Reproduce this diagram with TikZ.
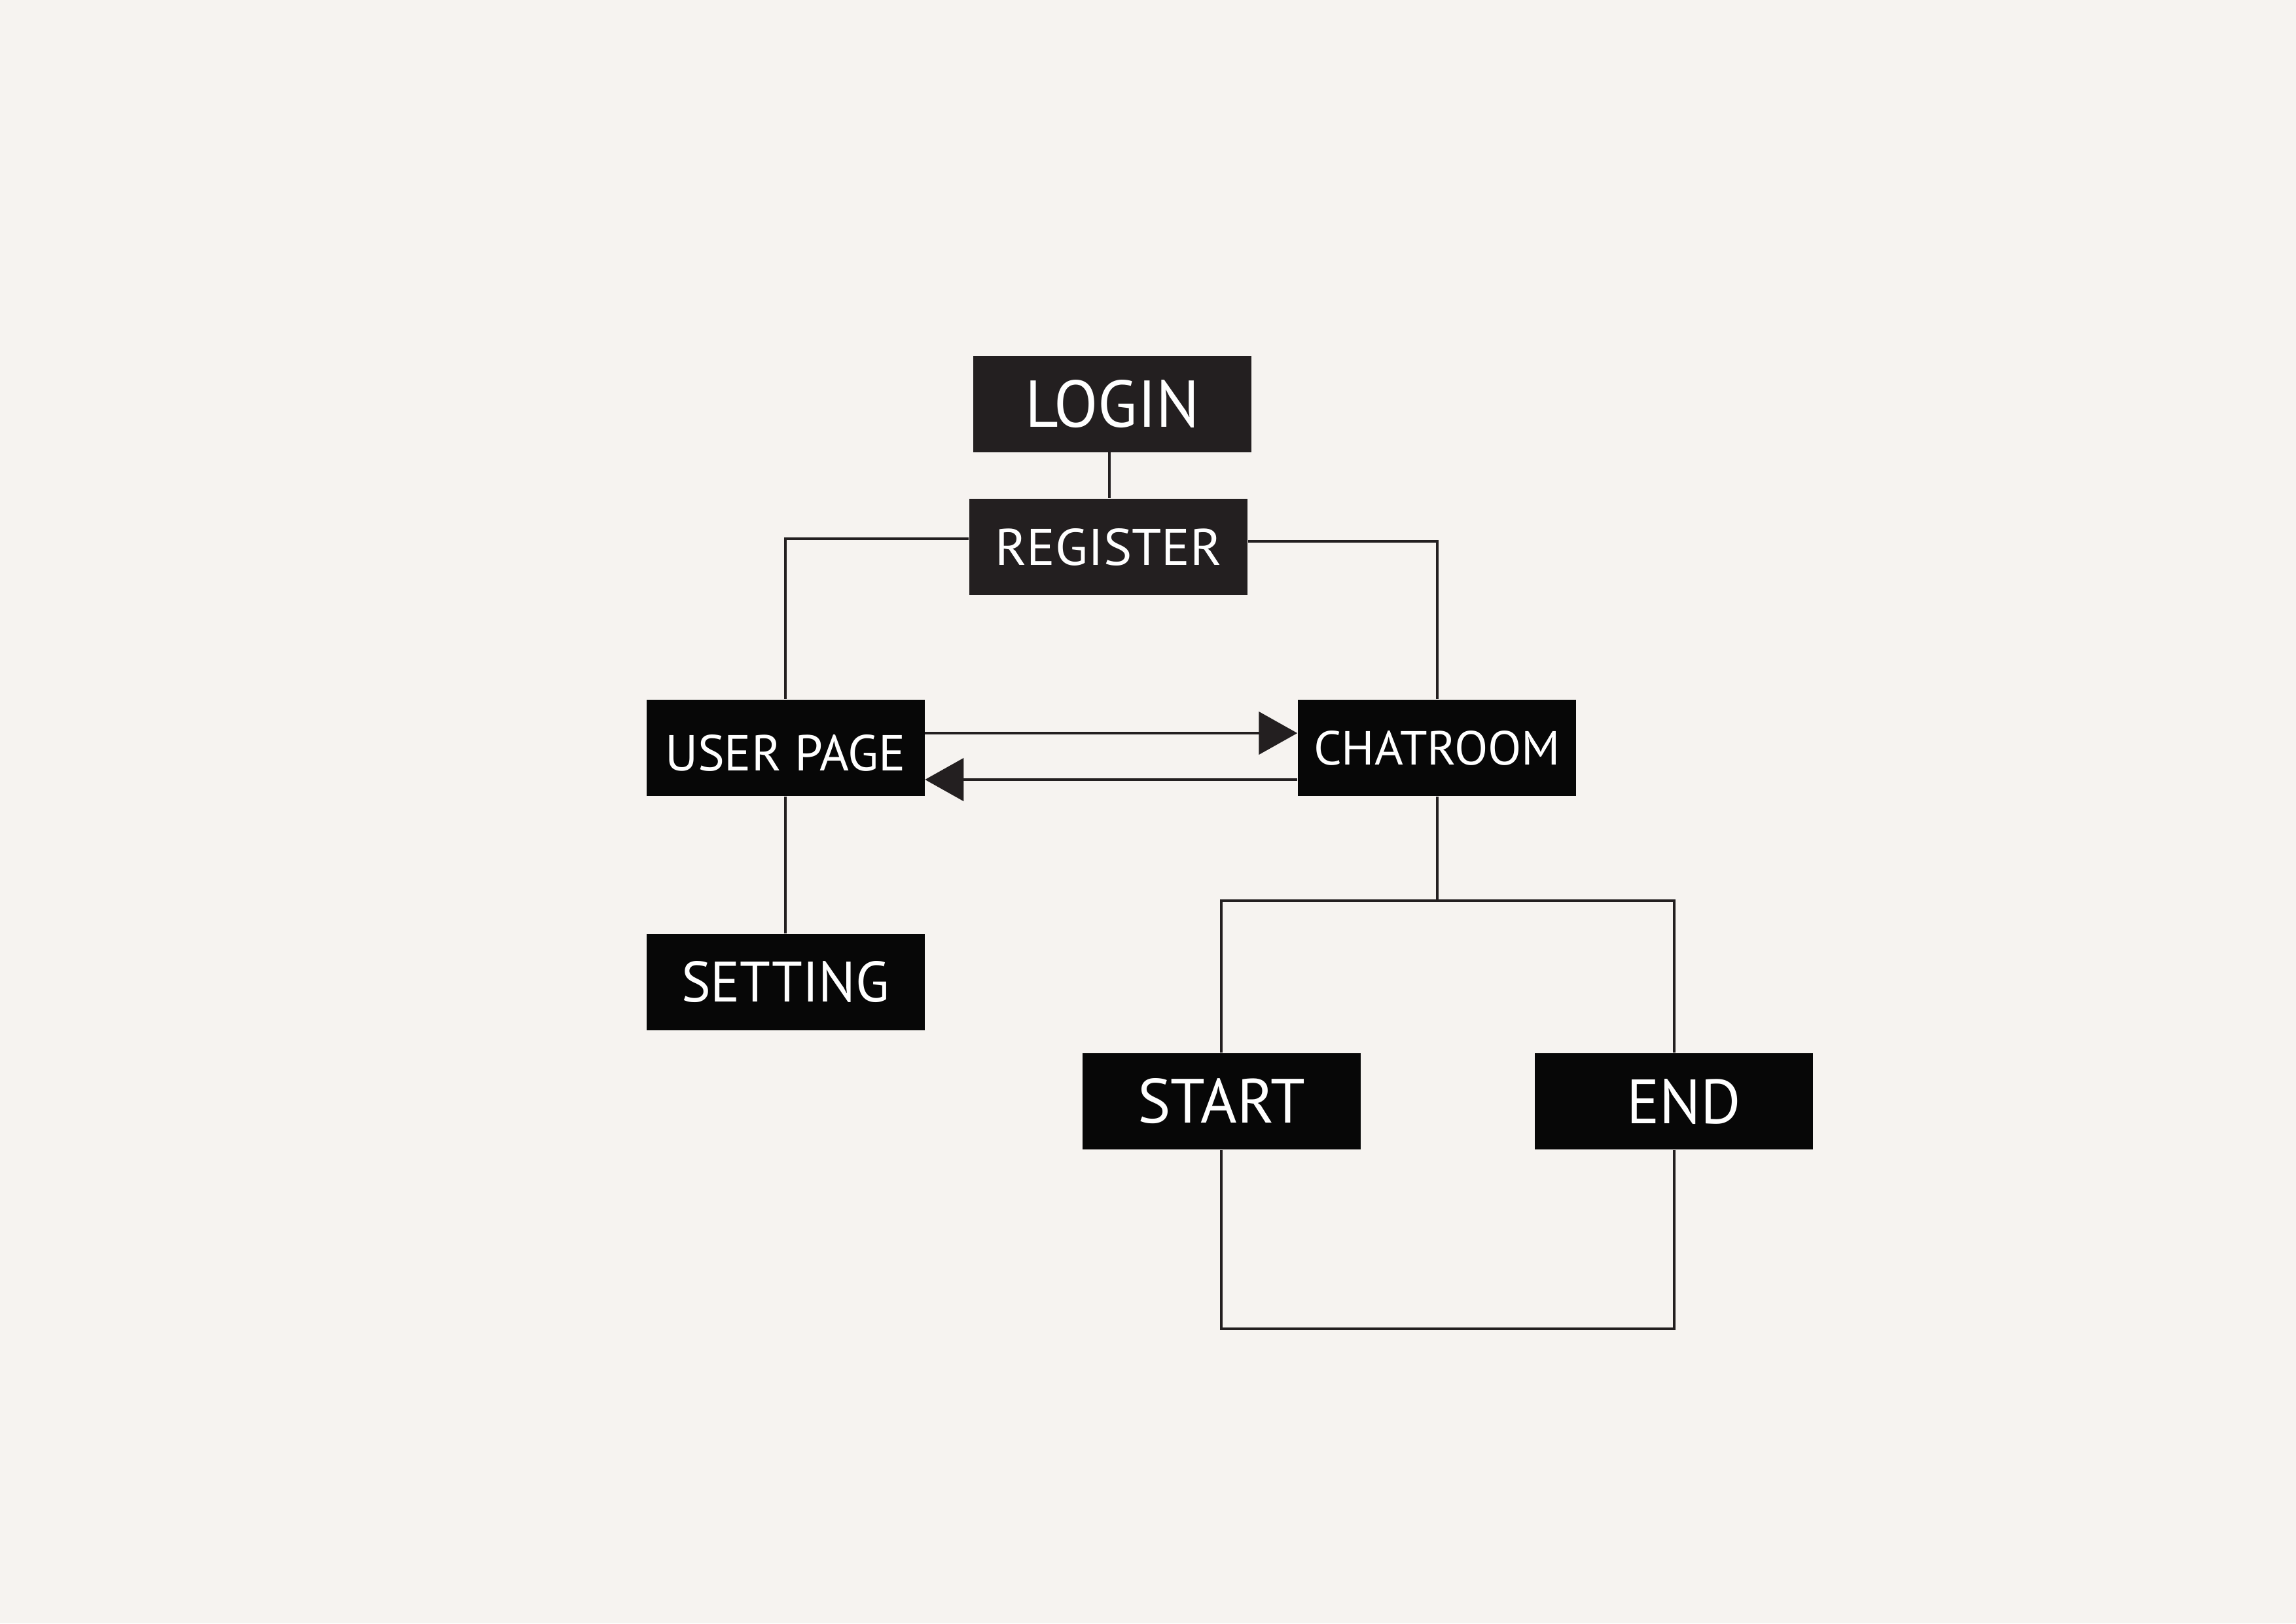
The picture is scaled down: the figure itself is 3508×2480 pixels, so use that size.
\documentclass[tikz,border=0pt]{standalone}
\usepackage{fontspec}
\setmainfont{PT Sans}
\usetikzlibrary{arrows.meta}
\newlength\pxu
\setlength\pxu{0.0084664cm}
\definecolor{bg}{HTML}{F6F3F0}
\definecolor{ink}{HTML}{231F20}
\definecolor{boxdark}{HTML}{231F20}
\definecolor{boxblack}{HTML}{070707}
\newcommand\lbl[3]{\resizebox{#1\pxu}{#2\pxu}{#3}}
\begin{document}
\begin{tikzpicture}[x=\pxu, y=-\pxu,
  box/.style={fill=boxblack, draw=none, minimum width=425\pxu, minimum height=147\pxu,
    inner sep=0pt, text=white, font=\fontsize{20}{24}\selectfont},
  darkbox/.style={box, fill=boxdark},
  conn/.style={draw=ink, line width=4\pxu},
  arr/.style={conn, -{Triangle[length=14.2pt, width=15.7pt]}}]
\fill[bg] (0,0) rectangle (3508,2480);
\useasboundingbox (0,0) rectangle (3508,2480);

\node[darkbox] (login) at (1699.5,617.5) {\lbl{267}{72}{LOGIN}};
\node[darkbox] (register) at (1693.5,835.5) {\lbl{347}{56}{REGISTER}};
\node[box] (userpage) at (1200,1142.5) {\raisebox{-34.5\pxu}[0pt][0pt]{\lbl{368}{55}{USER PAGE}}};
\node[box] (chatroom) at (2195.5,1142.5) {\lbl{377}{52}{CHATROOM}};
\node[box] (setting) at (1200,1500) {\lbl{318}{62}{SETTING}};
\node[box] (start) at (1866,1682.5) {\lbl{256}{68}{START}};
\node[box] (end) at (2557.5,1682.5) {\hspace*{30\pxu}\lbl{175}{68}{END}};

\coordinate (loginfoot) at (1695,691);
\coordinate (split) at (2195.5,1376);
\coordinate (bottom) at (2200,2030);

\draw[conn] (loginfoot) -- (loginfoot |- register.north);
\draw[conn] ([yshift=12.5\pxu]register.west) -| (userpage.north);
\draw[conn] ([yshift=8.5\pxu]register.east) -| (chatroom.north);
\draw[conn] (userpage.south) -- (setting.north);
\draw[arr] ([yshift=22.5\pxu]userpage.east) -- ([yshift=22.5\pxu]chatroom.west);
\draw[arr] ([yshift=-48.5\pxu]chatroom.west) -- ([yshift=-48.5\pxu]userpage.east);
\draw[conn] (chatroom.south) -- (split);
\draw[conn] (start.north) |- (split) -| (end.north);
\draw[conn] (start.south) |- (bottom) -| (end.south);
\end{tikzpicture}
\end{document}
